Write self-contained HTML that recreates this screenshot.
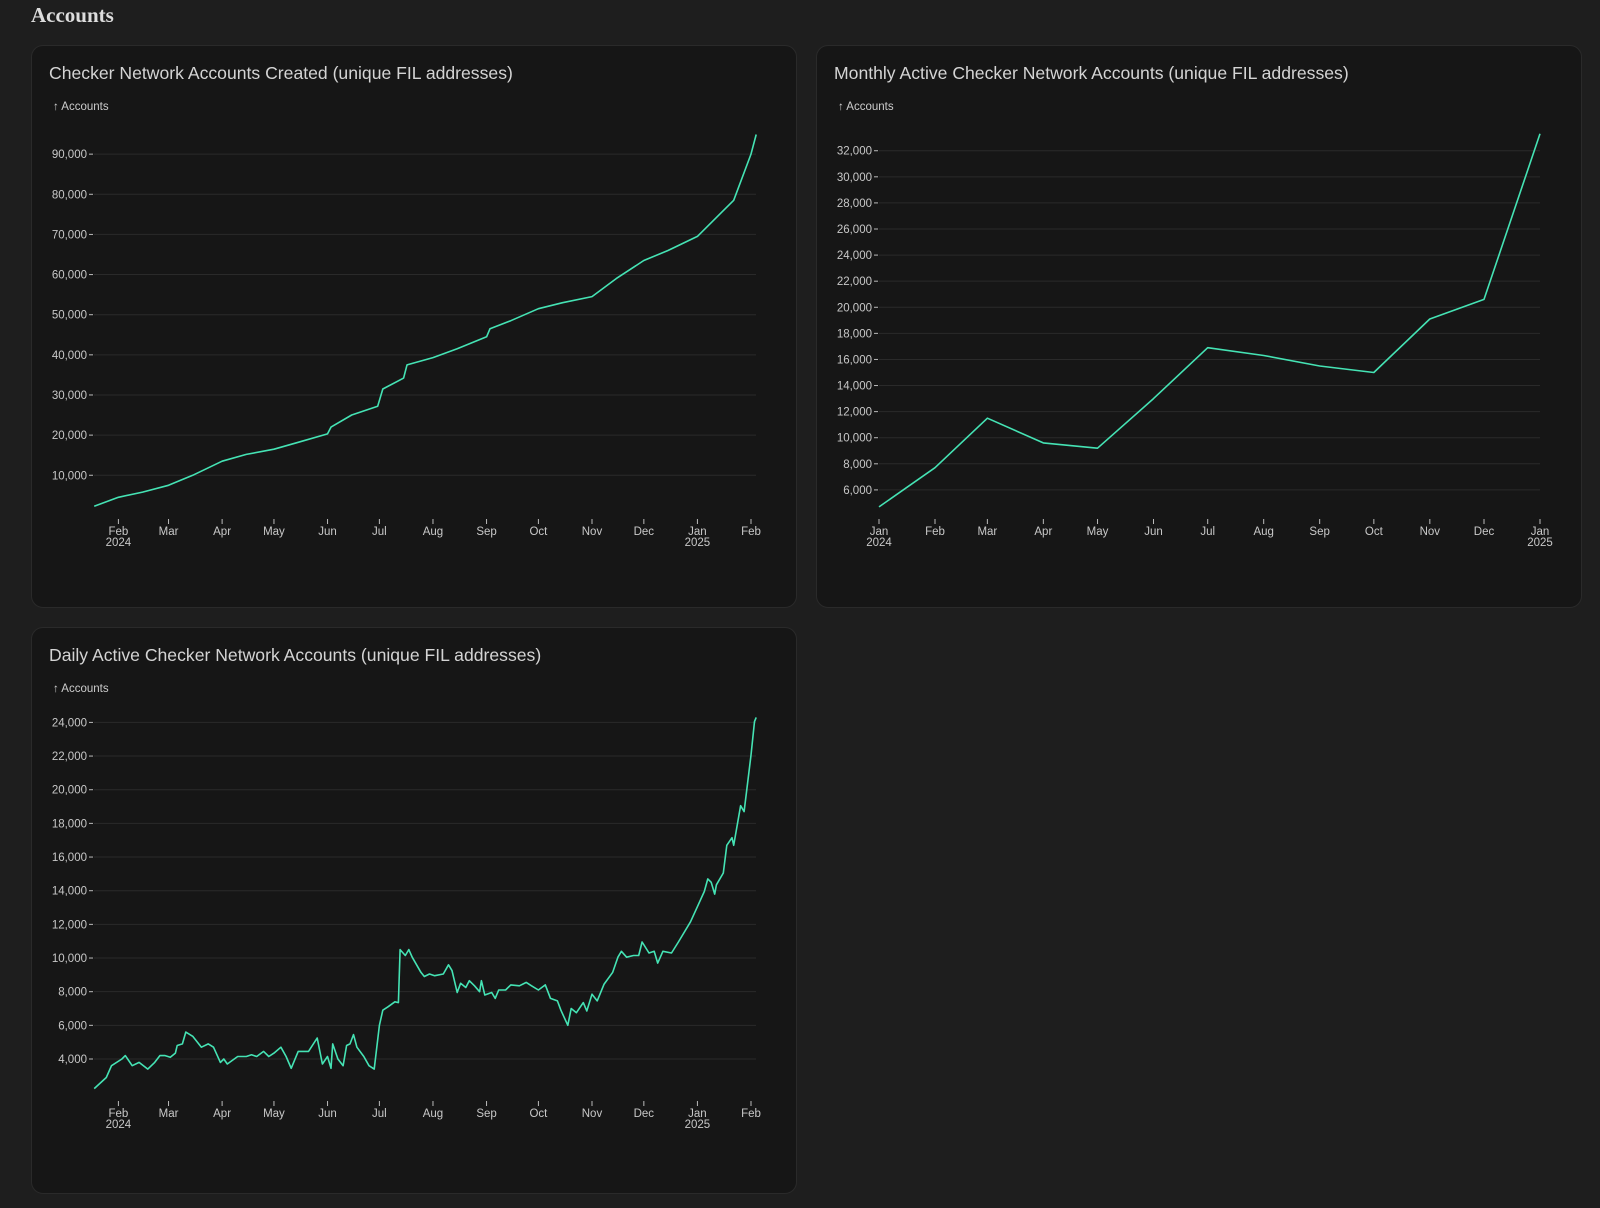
<!DOCTYPE html>
<html><head><meta charset="utf-8">
<style>
body{margin:0;width:1600px;height:1208px;background:#1e1e1e;overflow:hidden;font-family:"Liberation Sans",sans-serif;position:relative}
.hdr{position:absolute;left:31px;top:3px;font-family:"Liberation Serif",serif;font-weight:bold;font-size:21px;color:#ddd}
.panel{position:absolute;background:#161616;border:1px solid #2a2a2a;border-radius:12px;box-sizing:border-box}
.title{position:absolute;font-size:17.6px;color:#d4d4d4}
.ylab{position:absolute;font-size:11.5px;color:#ccc}
svg{position:absolute;left:0;top:0}
svg text{font-family:"Liberation Sans",sans-serif;font-size:11.5px;fill:#c8c8c8}
</style></head><body>
<div class="hdr">Accounts</div>
<div class="panel" style="left:31px;top:45px;width:766px;height:563px"></div>
<div class="panel" style="left:816px;top:45px;width:766px;height:563px"></div>
<div class="panel" style="left:31px;top:627px;width:766px;height:567px"></div>
<div class="title" style="left:49px;top:63px">Checker Network Accounts Created (unique FIL addresses)</div>
<div class="title" style="left:834px;top:63px">Monthly Active Checker Network Accounts (unique FIL addresses)</div>
<div class="title" style="left:49px;top:645px">Daily Active Checker Network Accounts (unique FIL addresses)</div>
<div class="ylab" style="left:53px;top:101px">↑ Accounts</div>
<div class="ylab" style="left:838px;top:101px">↑ Accounts</div>
<div class="ylab" style="left:53px;top:683px">↑ Accounts</div>
<svg id="chart" width="1600" height="1208"></svg>
<script>
// Chart 1: cumulative accounts created (day offsets from 2024-01-18)
const createdDays=[0,14,28,43,57,74,88,104,118,135,137,149,164,167,179,181,196,210,227,229,241,257,271,288,302,318,332,349,363,370,380,383];
const createdVals=[2300,4500,5800,7500,10000,13500,15200,16500,18200,20300,22000,25000,27200,31500,34200,37500,39300,41500,44500,46500,48500,51500,53000,54500,59000,63500,66000,69500,75500,78500,90000,94900];
const createdTicks=[10000,20000,30000,40000,50000,60000,70000,80000,90000];
// Chart 2: monthly active
const monthlyVals=[4700,7700,11500,9600,9200,13000,16900,16300,15500,15000,19100,20600,33300];
const monthlyTicks=[6000,8000,10000,12000,14000,16000,18000,20000,22000,24000,26000,28000,30000,32000];
// Chart 3: daily active (day offsets from 2024-01-18)
const dailyDays=[0,7,10,16,18,22,26,31,35,38,41,44,47,48,51,53,57,62,66,69,73,75,77,83,88,91,94,98,101,104,108,111,114,118,124,129,132,135,137,138,141,144,146,148,150,152,156,159,162,165,167,170,174,176,177,180,182,184,189,191,194,197,202,205,207,210,212,215,217,220,223,224,226,230,232,234,238,241,246,250,253,257,261,264,268,270,274,276,279,283,285,288,291,295,300,303,305,308,312,315,317,321,324,326,329,334,338,345,349,353,355,357,359,360,364,366,369,370,374,376,380,382,383];
const dailyVals=[2240,2900,3600,4000,4200,3600,3800,3400,3800,4200,4200,4100,4350,4800,4900,5600,5350,4700,4900,4700,3800,4000,3700,4150,4150,4250,4150,4450,4150,4350,4700,4150,3450,4450,4450,5250,3700,4150,3450,4900,4000,3600,4800,4900,5450,4700,4150,3600,3400,6000,6900,7100,7400,7350,10500,10150,10500,10050,9150,8900,9050,8950,9050,9600,9250,7950,8500,8250,8650,8350,8000,8650,7800,7950,7600,8100,8100,8400,8350,8550,8350,8100,8400,7600,7450,6900,6000,7000,6750,7350,6850,7850,7450,8450,9150,10050,10400,10050,10150,10150,10950,10300,10400,9700,10400,10300,10950,12150,13050,13950,14700,14500,13800,14350,15050,16700,17150,16700,19050,18700,22050,24050,24300];
const dailyTicks=[4000,6000,8000,10000,12000,14000,16000,18000,20000,22000,24000];
const monthNames=['Jan','Feb','Mar','Apr','May','Jun','Jul','Aug','Sep','Oct','Nov','Dec'];

const svg=document.getElementById('chart');
const NS='http://www.w3.org/2000/svg';
function mk(tag,attrs){const e=document.createElementNS(NS,tag);for(const k in attrs)e.setAttribute(k,attrs[k]);svg.appendChild(e);return e;}
const DAY=86400000;
function dayNum(y,m,d){return Date.UTC(y,m,d)/DAY;}

function drawChart(cfg){
  cfg.yTicks.forEach(v=>{
    const y=cfg.y(v);
    const g=mk('line',{x1:cfg.x0,x2:cfg.x1,y1:y,y2:y,stroke:'#2a2a2a','stroke-width':1});
    
    
    mk('line',{x1:cfg.x0-5,x2:cfg.x0-1,y1:y,y2:y,stroke:'#bbb','stroke-width':1});
    const t=mk('text',{x:cfg.x0-7,y:y+4,'text-anchor':'end'});
    t.textContent=v.toLocaleString('en-US');
    
    
  });
  cfg.xTicks.forEach(tk=>{
    const x=cfg.x(tk.day);
    mk('line',{x1:x,x2:x,y1:cfg.tickY,y2:cfg.tickY+5,stroke:'#bbb','stroke-width':1});
    const t=mk('text',{x:x,y:cfg.tickY+16,'text-anchor':'middle'});
    t.textContent=tk.label;
    
    
    if(tk.year){const t2=mk('text',{x:x,y:cfg.tickY+27,'text-anchor':'middle'});t2.textContent=tk.year;
      
      }
  });
  const d=cfg.days.map((dd,i)=>(i?'L':'M')+cfg.x(dd).toFixed(1)+','+cfg.y(cfg.vals[i]).toFixed(1)).join('');
  const p=mk('path',{d:d,fill:'none',stroke:'#45e3b4','stroke-width':1.6,'stroke-linejoin':'round'});
  
  
}

const start=dayNum(2024,0,18);
const feb24=dayNum(2024,1,1), feb25=dayNum(2025,1,1);
const pxDay=(751-118.4)/(feb25-feb24);
function xA(off){return 118.4+(start+off-feb24)*pxDay;}
function ticksA(){const a=[];for(let i=0;i<13;i++){const m=(1+i)%12,y=2024+Math.floor((1+i)/12);
  a.push({day:dayNum(y,m,1)-start,label:monthNames[m],year:(i==0||m==0)?String(y):null});}return a;}

drawChart({name:'accounts-created-line',x0:94,x1:756,x:xA,y:v=>515.4-v*0.004014,yTicks:createdTicks,xTicks:ticksA(),tickY:519,days:createdDays,vals:createdVals});

const jan24=dayNum(2024,0,1), jan25=dayNum(2025,0,1);
const pxDay2=(1540-879)/(jan25-jan24);
const monthDays=monthlyVals.map((v,i)=>dayNum(2024+Math.floor(i/12),i%12,1)-jan24);
const ticksB=monthlyVals.map((v,i)=>({day:monthDays[i],label:monthNames[i%12],year:(i%12==0)?String(2024+Math.floor(i/12)):null}));
drawChart({name:'monthly-active-line',x0:879,x1:1540,x:d=>879+d*pxDay2,y:v=>489.9-(v-6000)*0.013045,yTicks:monthlyTicks,xTicks:ticksB,tickY:519,days:monthDays,vals:monthlyVals});

drawChart({name:'daily-active-line',x0:94,x1:756,x:xA,y:v=>1059-(v-4000)*0.01683,yTicks:dailyTicks,xTicks:ticksA(),tickY:1101,days:dailyDays,vals:dailyVals});
</script>
</body></html>
